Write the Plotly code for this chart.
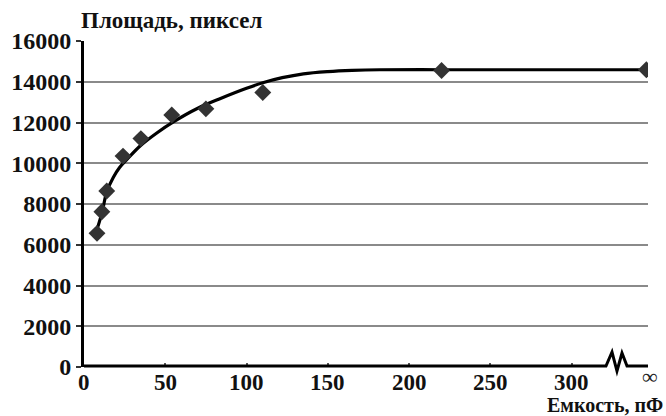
import plotly.graph_objects as go

# Data
cap_x = [8, 11, 14, 24, 35, 54, 75, 110, 220, 346]          # 346 = position of "∞"
area_y = [6560, 7620, 8640, 10350, 11210, 12370, 12670, 13470, 14550, 14590]

curve_x = [7, 11, 14, 18, 22, 26, 35, 45, 55, 70, 84, 100, 110, 122, 135, 150, 165, 182, 220, 260, 300, 346]
curve_y = [6500, 7550, 8600, 9300, 9800, 10150, 10880, 11500, 12030, 12700, 13180, 13680, 13950, 14200,
           14390, 14500, 14560, 14590, 14590, 14590, 14590, 14590]

x_tickvals = [0, 50, 100, 150, 200, 250, 300]
x_ticktext = ["0", "50", "100", "150", "200", "250", "300"]
inf_pos = 346
inf_label = "∞"
y_tickvals = [0, 2000, 4000, 6000, 8000, 10000, 12000, 14000, 16000]
y_ticktext = [str(v) for v in y_tickvals]

FONT = "serif"
W, H = 666, 416
L, R, T, B = 84, 18, 41, 49
pw, ph = W - L - R, H - T - B


def px(xp, yp):
    return (xp - L) / pw, (H - B - yp) / ph


fig = go.Figure()
fig.add_trace(go.Scatter(x=curve_x, y=curve_y, mode="lines",
                         line=dict(color="black", width=3.2, shape="spline", smoothing=1.0),
                         showlegend=False, hoverinfo="skip"))
fig.add_trace(go.Scatter(x=cap_x, y=area_y, mode="markers",
                         marker=dict(symbol="diamond", size=13, color="#333333"),
                         showlegend=False))

# x-axis line with a break
pts = [(84, 366), (606, 366), (612, 352), (617, 371), (622, 353), (627, 366), (648, 366)]
path = ""
for i, (a, b) in enumerate(pts):
    u, v = px(a, b)
    path += ("M" if i == 0 else "L") + f"{u:.4f},{v:.4f} "
fig.add_shape(type="path", path=path.strip(), xref="paper", yref="paper",
              line=dict(color="black", width=3))

tf = dict(family=FONT, size=24, color="#111", weight="bold")
fig.update_layout(
    width=W, height=H,
    margin=dict(l=L, r=R, t=T, b=B),
    plot_bgcolor="white", paper_bgcolor="white",
    xaxis=dict(range=[0, 347], tickvals=x_tickvals, showticklabels=False,
               showgrid=False, zeroline=False, showline=False,
               ticks="inside", ticklen=4, tickwidth=1.5, tickcolor="#555"),
    yaxis=dict(range=[0, 16000], tickvals=y_tickvals, ticktext=y_ticktext,
               showgrid=True, gridcolor="#8a8a8a", gridwidth=2,
               zeroline=False, showline=True, linecolor="black", linewidth=3,
               ticks="outside", ticklen=5, tickwidth=1.5, tickcolor="#333",
               tickfont=tf),
)

# x tick labels placed on the x axis scale
for v, t in zip(x_tickvals, x_ticktext):
    fig.add_annotation(text=t, xref="x", yref="paper", x=v, y=px(0, 382)[1],
                       xanchor="center", yanchor="middle", showarrow=False,
                       borderpad=0, font=dict(family=FONT, size=23, color="#111", weight="bold"))

fig.add_annotation(text=inf_label, xref="paper", yref="paper",
                   x=px(650, 0)[0], y=px(0, 376)[1], xanchor="center", yanchor="middle",
                   showarrow=False, borderpad=0, font=dict(family=FONT, size=22, color="#222222"))
fig.add_annotation(text="Площадь, пиксел", xref="paper", yref="paper",
                   x=px(79, 0)[0], y=px(0, 21)[1], xanchor="left", yanchor="middle",
                   showarrow=False, font=dict(family=FONT, size=23, color="#111", weight="bold"))
fig.add_annotation(text="Емкость, пФ", xref="paper", yref="paper",
                   x=px(664, 0)[0], y=px(0, 405)[1], xanchor="right", yanchor="middle",
                   showarrow=False, borderpad=0, font=dict(family=FONT, size=20, color="#111", weight="bold"))

fig.write_html("out.html")
